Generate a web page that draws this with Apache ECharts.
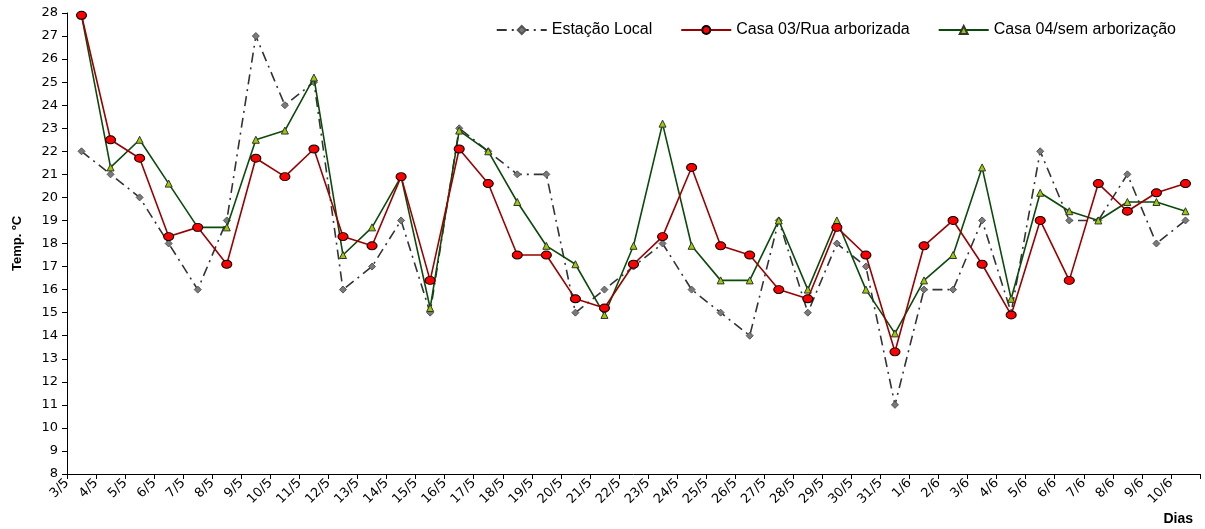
<!DOCTYPE html>
<html>
<head>
<meta charset="utf-8">
<script src="https://cdn.jsdelivr.net/npm/echarts@6/dist/echarts.min.js"></script>
<style>
  html, body { margin: 0; padding: 0; background: #ffffff; }
  #chart { width: 1205px; height: 529px; }
</style>
</head>
<body>
<div id="chart"></div>
<script>
// Daily temperatures, 3 May to 10 June
const days = ['3/5','4/5','5/5','6/5','7/5','8/5','9/5','10/5','11/5','12/5','13/5','14/5','15/5','16/5',
  '17/5','18/5','19/5','20/5','21/5','22/5','23/5','24/5','25/5','26/5','27/5','28/5','29/5','30/5','31/5',
  '1/6','2/6','3/6','4/6','5/6','6/6','7/6','8/6','9/6','10/6'];

const estacaoLocal = [22, 21, 20, 18, 16, 19, 27, 24, 25, 16, 17, 19, 15, 23,
  22, 21, 21, 15, 16, 17, 18, 16, 15, 14, 19, 15, 18, 17, 11,
  16, 16, 19, 15, 22, 19, 19, 21, 18, 19];

const casa03 = [27.9, 22.5, 21.7, 18.3, 18.7, 17.1, 21.7, 20.9, 22.1, 18.3, 17.9, 20.9, 16.4, 22.1,
  20.6, 17.5, 17.5, 15.6, 15.2, 17.1, 18.3, 21.3, 17.9, 17.5, 16.0, 15.6, 18.7, 17.5, 13.3,
  17.9, 19.0, 17.1, 14.9, 19.0, 16.4, 20.6, 19.4, 20.2, 20.6];

const casa04 = [27.9, 21.3, 22.5, 20.6, 18.7, 18.7, 22.5, 22.9, 25.2, 17.5, 18.7, 20.9, 15.2, 22.9,
  22.0, 19.8, 17.9, 17.1, 14.9, 17.9, 23.2, 17.9, 16.4, 16.4, 19.0, 16.0, 19.0, 16.0, 14.1,
  16.4, 17.5, 21.3, 15.6, 20.2, 19.4, 19.0, 19.8, 19.8, 19.4];

const seriesNames = ['Estação Local', 'Casa 03/Rua arborizada', 'Casa 04/sem arborização'];
const yTitle = 'Temp. ºC';
const xTitle = 'Dias';

// Day labels sit on the tick marks between categories, so a second axis
// with one extra (blank) slot carries them.
const tickLabels = days.concat(['']);

const chart = echarts.init(document.getElementById('chart'), null, { renderer: 'canvas' });

const axisFont = 'DejaVu Sans, Arial, sans-serif';

chart.setOption({
  animation: false,
  backgroundColor: '#ffffff',
  grid: { left: 67, right: 5, top: 13, bottom: 55, containLabel: false, outerBoundsMode: 'none' },
  legend: {
    top: 17,
    right: 24,
    itemWidth: 50,
    itemHeight: 10,
    itemGap: 28,
    textStyle: { fontFamily: 'Liberation Sans, Arial, sans-serif', fontSize: 16, color: '#000' },
    data: seriesNames
  },
  xAxis: [
    {
      type: 'category',
      data: days,
      boundaryGap: true,
      position: 'bottom',
      axisLine: { lineStyle: { color: '#000', width: 1 } },
      axisTick: { show: true, length: 5, interval: 0, lineStyle: { color: '#000' } },
      axisLabel: { show: false },
      splitLine: { show: false },
      name: xTitle,
      nameLocation: 'end',
      nameGap: -7,
      nameTextStyle: {
        fontFamily: 'Liberation Sans, Arial, sans-serif',
        fontSize: 14, fontWeight: 'bold', color: '#000',
        align: 'right', verticalAlign: 'top', padding: [38, 0, 0, 0]
      }
    },
    {
      type: 'category',
      data: tickLabels,
      boundaryGap: false,
      position: 'bottom',
      axisLine: { show: false },
      axisTick: { show: false },
      axisLabel: {
        interval: 0,
        rotate: 45,
        margin: 7,
        fontFamily: axisFont,
        fontSize: 13,
        color: '#000'
      },
      splitLine: { show: false }
    }
  ],
  yAxis: {
    type: 'value',
    min: 8,
    max: 28,
    interval: 1,
    axisLine: { show: true, lineStyle: { color: '#000', width: 1 } },
    axisTick: { show: true, length: 5, lineStyle: { color: '#000' } },
    axisLabel: { margin: 9, fontFamily: axisFont, fontSize: 13, color: '#000' },
    splitLine: { show: false },
    name: yTitle,
    nameLocation: 'middle',
    nameGap: 43,
    nameRotate: 90,
    nameTextStyle: { fontFamily: 'Liberation Sans, Arial, sans-serif', fontSize: 13, fontWeight: 'bold', color: '#000' }
  },
  series: [
    {
      name: seriesNames[0],
      type: 'line',
      xAxisIndex: 0,
      data: estacaoLocal,
      symbol: 'diamond',
      symbolSize: 7,
      itemStyle: { color: '#7a7a7a', borderColor: '#555', borderWidth: 1 },
      lineStyle: { color: '#333333', width: 1.6, type: [10, 5, 2, 5] },
      z: 2
    },
    {
      name: seriesNames[1],
      type: 'line',
      xAxisIndex: 0,
      data: casa03,
      symbol: 'circle',
      symbolSize: [10, 8],
      itemStyle: { color: '#ff0000', borderColor: '#000', borderWidth: 1 },
      lineStyle: { color: '#990000', width: 1.6 },
      z: 4
    },
    {
      name: seriesNames[2],
      type: 'line',
      xAxisIndex: 0,
      data: casa04,
      symbol: 'triangle',
      symbolSize: 7,
      itemStyle: { color: '#99cc00', borderColor: '#333', borderWidth: 1 },
      lineStyle: { color: '#0a4a0a', width: 1.6 },
      z: 3
    }
  ]
});
</script>
</body>
</html>
